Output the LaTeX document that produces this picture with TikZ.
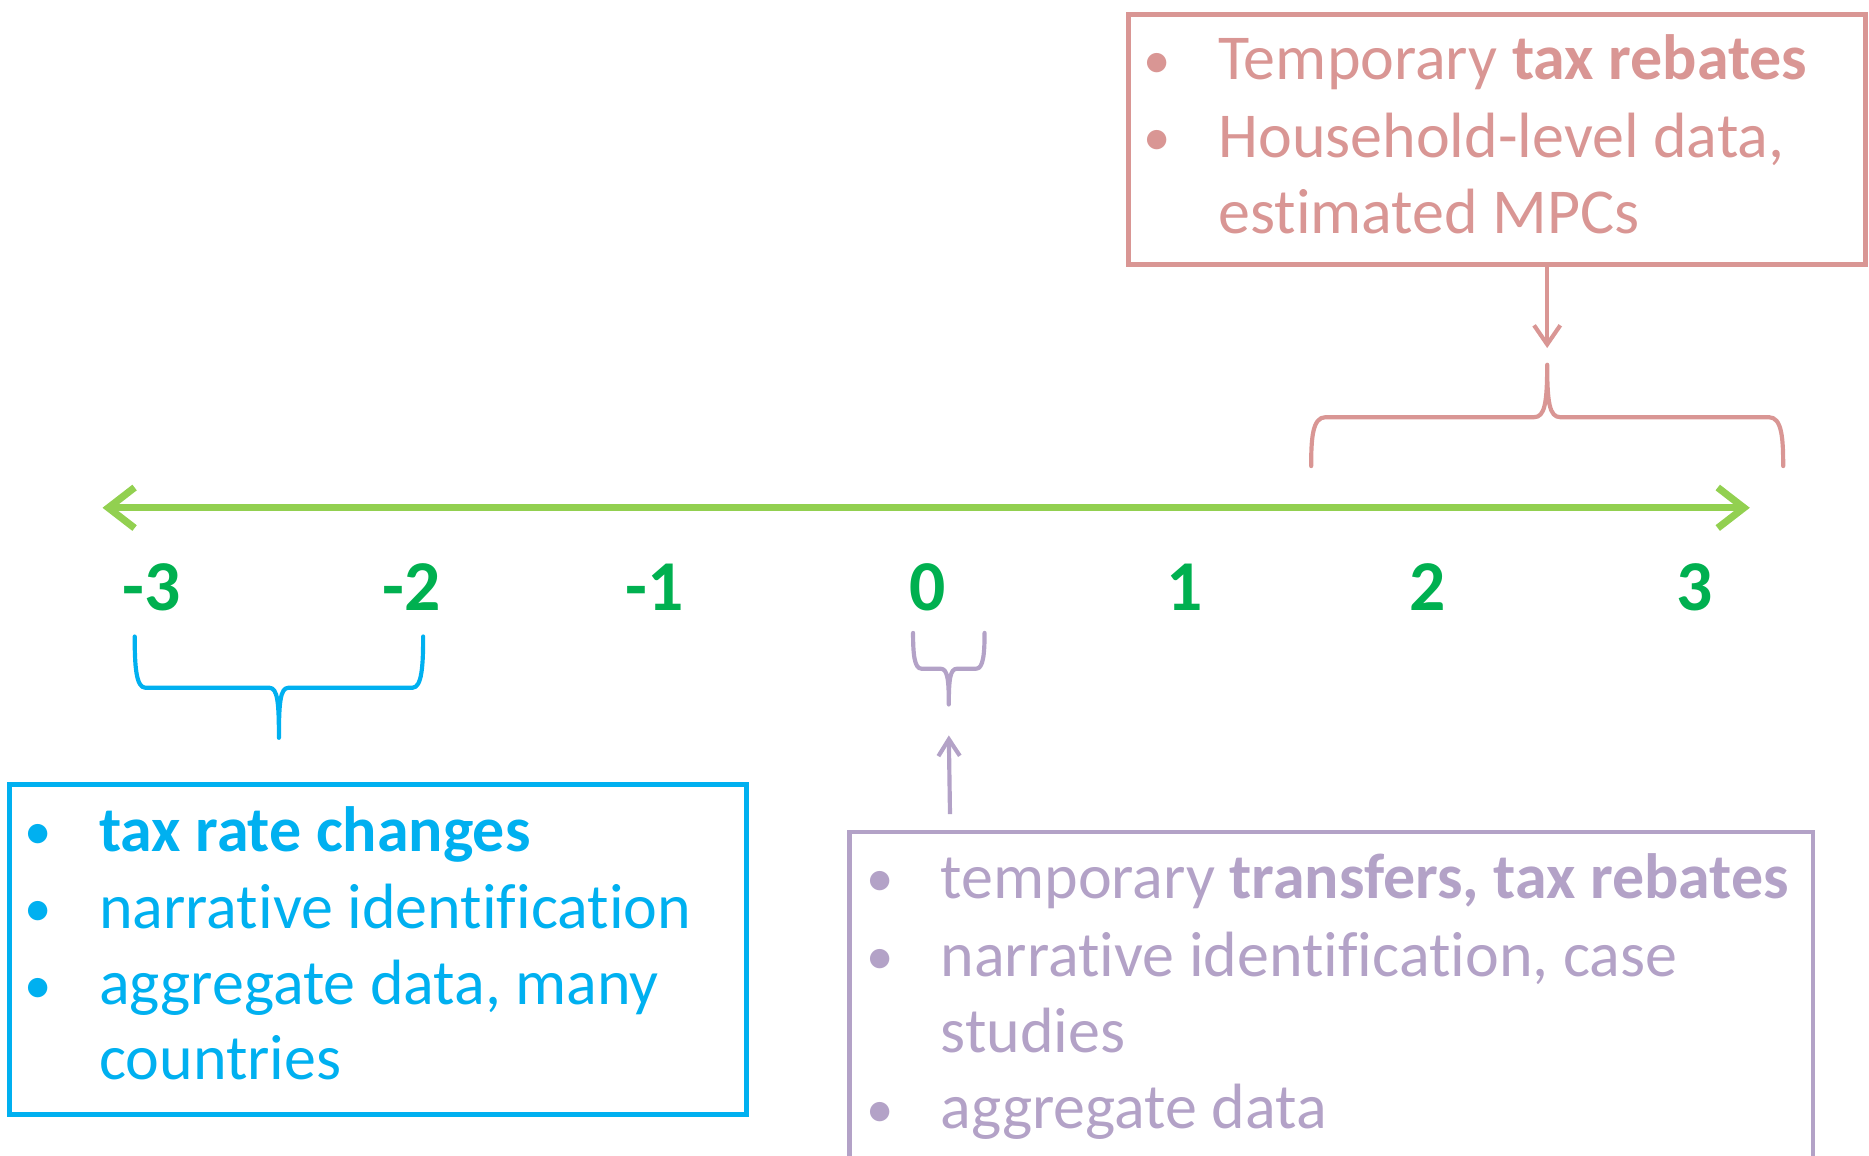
\documentclass[tikz,border=0pt]{standalone}
\usepackage{fontspec}
\setmainfont[Ligatures=NoCommon]{Carlito}
\usetikzlibrary{arrows.meta}
\definecolor{axisgreen}{HTML}{92D050}
\definecolor{numgreen}{HTML}{00B050}
\definecolor{bluec}{HTML}{00B0F0}
\definecolor{purplec}{HTML}{B3A2C7}
\definecolor{pinkc}{HTML}{D99694}
\tikzset{
  txt/.style={inner sep=0pt, font=\fontsize{53.7}{64}\selectfont},
  bul/.style={inner sep=0pt, anchor=base, font=\fontsize{46}{64}\selectfont, yshift=1.5pt},
  line/.style={txt, anchor=base west},
  num/.style={inner sep=0pt, anchor=base, text=numgreen, font=\fontsize{60}{72}\selectfont\bfseries},
  frame/.style={draw, line width=4pt, inner sep=0pt, anchor=north west},
  bracestyle/.style={line width=3.5pt, line cap=round, line join=round},
  conn/.style={line width=3.5pt, -{Straight Barb[length=16pt,width=22pt,line width=3.5pt]}},
}
\begin{document}
\begin{tikzpicture}[x=1pt,y=-1pt]
\useasboundingbox (0,0) rectangle (1568,969);
\clip (0,0) rectangle (1568,969);

% axis
\coordinate (aL) at (86,426);
\coordinate (aR) at (1468,426);
\draw[axisgreen, line width=6pt, {Straight Barb[length=22pt,width=34pt,line width=6pt]}-{Straight Barb[length=22pt,width=34pt,line width=6pt]}] (aL) -- (aR);

% numbers
\node[num] (nm3) at (127,512) {-3};
\node[num] (nm2) at (345,512) {-2};
\node[num] (nm1) at (549,512) {-1};
\node[num] (n0) at (778,512) {0};
\node[num] (n1) at (994,512) {1};
\node[num] (n2) at (1198,512) {2};
\node[num] (n3) at (1422,512) {3};

% pink box
\node[frame, draw=pinkc, minimum width=618pt, minimum height=210pt] (pinkbox) at (945,10) {};
\node[bul, text=pinkc] (pb1) at (971,67) {•};
\node[line, text=pinkc] (pt1) at (1022,67) {Temporary \textbf{tax rebates}};
\node[bul, text=pinkc] (pb2) at (971,132) {•};
\node[line, text=pinkc] (pt2) at (1022,132) {Household-level data,};
\node[line, text=pinkc] (pt3) at (1022,196) {estimated MPCs};

% pink brace
\draw[pinkc, bracestyle] (1100,391) .. controls (1100,368) and (1101,350) .. (1112,350) -- (1287,350)
  .. controls (1296,350) and (1298,338) .. (1298,306)
  .. controls (1298,338) and (1300,350) .. (1309,350) -- (1484,350)
  .. controls (1495,350) and (1496,368) .. (1496,391);
\coordinate (pinktip) at (1298,292);
\draw[pinkc, conn] (pinkbox.south -| pinktip) -- (pinktip);

% blue brace
\draw[bluec, bracestyle] (113,534) .. controls (113,558) and (114,577) .. (122,577) -- (226,577)
  .. controls (233,577) and (234,590) .. (234,619)
  .. controls (234,590) and (235,577) .. (242,577) -- (346,577)
  .. controls (354,577) and (355,558) .. (355,534);

% blue box
\node[frame, draw=bluec, minimum width=618pt, minimum height=277pt] (bluebox) at (6,656) {};
\node[bul, text=bluec] (bb1) at (32,714) {•};
\node[line, text=bluec] (bt1) at (83,714) {\textbf{tax rate changes}};
\node[bul, text=bluec] (bb2) at (32,779) {•};
\node[line, text=bluec] (bt2) at (83,779) {narrative identification};
\node[bul, text=bluec] (bb3) at (32,843) {•};
\node[line, text=bluec] (bt3) at (83,843) {aggregate data, many};
\node[line, text=bluec] (bt4) at (83,906) {countries};

% purple brace
\draw[purplec, bracestyle] (766,531) .. controls (766,548) and (767,561) .. (773,561) -- (789,561)
  .. controls (795,561) and (796,570) .. (796,591)
  .. controls (796,570) and (797,561) .. (803,561) -- (819,561)
  .. controls (825,561) and (826,548) .. (826,531);

% purple box
\node[frame, draw=purplec, minimum width=808pt, minimum height=300pt] (purplebox) at (711,696) {};
\coordinate (purplestart) at (797,683);
\coordinate (purpletip) at (796,617);
\draw[purplec, line width=3.5pt, -{Straight Barb[length=14pt,width=18pt,line width=3.5pt]}] (purplestart) -- (purpletip);
\node[bul, text=purplec] (ub1) at (738,754) {•};
\node[line, text=purplec] (ut1) at (789,754) {temporary \textbf{transfers, tax rebates}};
\node[bul, text=purplec] (ub2) at (738,819) {•};
\node[line, text=purplec] (ut2) at (789,819) {narrative identification, case};
\node[line, text=purplec] (ut3) at (789,883) {studies};
\node[bul, text=purplec] (ub3) at (738,947) {•};
\node[line, text=purplec] (ut4) at (789,947) {aggregate data};
\end{tikzpicture}
\end{document}
